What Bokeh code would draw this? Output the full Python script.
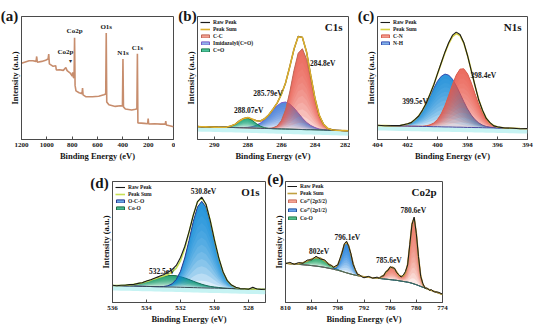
from bokeh.plotting import figure
from bokeh.models import Range1d, FixedTicker, Label, Legend, LegendItem, Spacer
from bokeh.layouts import row, column
from bokeh.embed import file_html
from bokeh.resources import INLINE

# ---------------- data ----------------
# (a) survey
survey_be = [1200, 1170, 1140, 1110, 1085, 1080, 1075, 1040, 1010, 990, 985, 980, 950, 930, 925,
             900, 870, 850, 840, 815, 800, 796, 790, 785, 781, 777, 770, 745, 722, 718, 714, 690,
             640, 590, 550, 535, 531, 527, 510, 460, 420, 403, 399, 395, 380, 330, 300, 289, 285,
             281, 230, 204, 200, 196, 150, 100, 65, 61, 57, 30, 0]
survey_int = [62.0, 63.0, 64.0, 64.0, 63.5, 67.5, 62.8, 63.5, 64.5, 65.5, 69.5, 61.5, 59.5, 60.0, 56.5,
              56.7, 56.2, 58.5, 56.0, 54.0, 51.5, 54.5, 50.5, 50.0, 82.8, 44.0, 39.5, 38.0, 37.3, 41.8,
              36.3, 34.7, 34.7, 35.2, 36.3, 37.0, 86.5, 30.5, 28.2, 26.9, 27.4, 27.2, 65.5, 26.5, 24.8,
              24.0, 24.6, 25.0, 69.8, 13.5, 13.1, 12.8, 17.0, 12.6, 12.8, 12.5, 12.5, 15.0, 11.8, 11.2, 10.4]
survey_ticks = [1200, 1000, 800, 600, 400, 200, 0]

# (b) C1s
c1s_be = [291.0, 290.75, 290.5, 290.25, 290.0, 289.75, 289.5, 289.25, 289.0, 288.75, 288.5, 288.25,
          288.0, 287.75, 287.5, 287.25, 287.0, 286.75, 286.5, 286.25, 286.0, 285.75, 285.5, 285.25,
          285.0, 284.75, 284.5, 284.25, 284.0, 283.75, 283.5, 283.25, 283.0, 282.75, 282.5, 282.25, 282.0]
c1s_bg = [10.5, 10.4, 10.3, 10.2, 10.1, 10.0, 9.9, 9.8, 9.8, 9.7, 9.6, 9.5, 9.4, 9.3, 9.2, 9.1, 9.0, 8.9,
          8.8, 8.7, 8.6, 8.5, 8.4, 8.3, 8.2, 8.1, 8.0, 8.0, 7.9, 7.8, 7.7, 7.6, 7.5, 7.4, 7.3, 7.2, 7.1]
c1s_cc = [10.5, 10.4, 10.3, 10.2, 10.1, 10.0, 9.9, 9.8, 9.8, 9.7, 9.6, 9.5, 9.4, 9.3, 9.2, 9.1, 9.0, 9.0,
          9.5, 11.0, 15.3, 24.1, 38.6, 56.1, 70.1, 73.8, 65.2, 48.7, 31.7, 19.2, 12.2, 9.1, 7.9, 7.5, 7.3, 7.2, 7.1]
c1s_im = [10.5, 10.4, 10.3, 10.2, 10.1, 10.0, 9.9, 9.8, 9.8, 9.7, 9.7, 9.7, 9.9, 10.4, 11.5, 13.4, 16.2,
          19.8, 23.8, 27.5, 29.9, 30.5, 28.9, 25.7, 21.6, 17.4, 13.9, 11.4, 9.7, 8.6, 8.1, 7.7, 7.5, 7.4, 7.3, 7.2, 7.1]
c1s_co = [10.5, 10.4, 10.3, 10.2, 10.1, 10.0, 10.0, 10.1, 10.9, 12.5, 14.9, 16.9, 17.3, 15.6, 13.0, 10.8,
          9.6, 9.1, 8.8, 8.7, 8.6, 8.5, 8.4, 8.3, 8.2, 8.1, 8.0, 8.0, 7.9, 7.8, 7.7, 7.6, 7.5, 7.4, 7.3, 7.2, 7.1]
c1s_sum = [10.5, 10.4, 10.3, 10.2, 10.1, 10.0, 10.0, 10.1, 10.9, 12.5, 15.0, 17.1, 17.8, 16.7, 15.3, 15.1,
           16.8, 20.1, 24.5, 29.8, 36.6, 46.1, 59.1, 73.5, 83.5, 83.1, 71.1, 52.1, 33.5, 20.0, 12.6, 9.2,
           7.9, 7.5, 7.3, 7.2, 7.1]
c1s_raw = [10.6, 10.3, 10.4, 10.1, 10.2, 9.9, 10.1, 10.0, 11.0, 12.4, 15.2, 17.0, 17.9, 16.5, 15.4, 15.0,
           16.9, 20.0, 24.7, 29.6, 36.8, 46.0, 59.3, 73.3, 83.8, 83.0, 71.3, 51.9, 33.7, 19.8, 12.7, 9.1,
           8.0, 7.4, 7.4, 7.1, 7.2]
c1s_ticks = [290, 288, 286, 284, 282]

# (c) N1s
n1s_be = [404.0, 403.5, 403.0, 402.5, 402.0, 401.75, 401.5, 401.25, 401.0, 400.75, 400.5, 400.25, 400.0,
          399.75, 399.5, 399.25, 399.0, 398.75, 398.5, 398.25, 398.0, 397.75, 397.5, 397.25, 397.0,
          396.75, 396.5, 396.25, 396.0, 395.5, 395.0, 394.5, 394.0]
n1s_bg = [11.4, 11.3, 11.1, 11.0, 10.9, 10.8, 10.8, 10.7, 10.6, 10.6, 10.5, 10.4, 10.4, 10.3, 10.2, 10.2,
          10.1, 10.0, 10.0, 9.9, 9.8, 9.8, 9.7, 9.7, 9.6, 9.5, 9.5, 9.4, 9.3, 9.2, 9.1, 8.9, 8.8]
n1s_nh = [11.4, 11.3, 11.2, 11.4, 12.6, 13.9, 16.1, 19.2, 23.5, 29.1, 35.3, 41.6, 47.4, 51.4, 53.2, 52.3,
          49.0, 43.7, 37.4, 30.8, 24.8, 19.9, 16.1, 13.5, 11.7, 10.6, 10.1, 9.7, 9.4, 9.2, 9.1, 8.9, 8.8]
n1s_cn = [11.4, 11.3, 11.1, 11.0, 10.9, 10.8, 10.8, 10.8, 10.8, 11.2, 11.9, 13.4, 16.3, 20.9, 27.6, 35.9,
          44.8, 52.4, 57.2, 57.5, 53.5, 46.2, 37.2, 28.6, 21.4, 16.2, 12.9, 11.0, 10.0, 9.3, 9.1, 8.9, 8.8]
n1s_sum = [11.4, 11.3, 11.2, 11.4, 12.6, 13.9, 16.1, 19.3, 23.7, 29.7, 36.7, 44.6, 53.3, 62.0, 70.6, 78.0,
           83.7, 86.1, 84.6, 78.4, 68.5, 56.3, 43.6, 32.4, 23.5, 17.3, 13.5, 11.3, 10.1, 9.3, 9.1, 8.9, 8.8]
n1s_raw = [11.6, 11.2, 11.4, 11.3, 12.8, 13.7, 16.3, 19.1, 23.9, 29.5, 36.9, 44.4, 53.6, 62.4, 71.2, 78.8,
           84.8, 87.3, 85.4, 78.9, 68.3, 56.0, 43.9, 32.1, 23.8, 17.1, 13.7, 11.1, 10.3, 9.4, 9.2, 8.8, 8.9]
n1s_ticks = [404, 402, 400, 398, 396, 394]

# (d) O1s
o1s_be = [536.0, 535.75, 535.5, 535.25, 535.0, 534.75, 534.5, 534.25, 534.0, 533.75, 533.5, 533.25,
          533.0, 532.75, 532.5, 532.25, 532.0, 531.75, 531.5, 531.25, 531.0, 530.75, 530.5, 530.25,
          530.0, 529.75, 529.5, 529.25, 529.0, 528.75, 528.5, 528.25, 528.0, 527.75, 527.5, 527.25, 527.0]
o1s_bg = [14.0, 13.9, 13.8, 13.7, 13.7, 13.6, 13.5, 13.4, 13.3, 13.2, 13.1, 13.0, 12.9, 12.8, 12.8, 12.7,
          12.6, 12.5, 12.4, 12.3, 12.2, 12.1, 12.0, 11.9, 11.9, 11.8, 11.7, 11.6, 11.5, 11.4, 11.3, 11.2,
          11.1, 11.1, 11.0, 10.9, 10.8]
o1s_coo = [14.1, 14.1, 14.1, 14.3, 14.6, 15.0, 15.6, 16.4, 17.4, 18.5, 19.7, 20.8, 21.6, 22.2, 22.4, 22.1,
           21.3, 20.3, 19.0, 17.6, 16.3, 15.1, 14.1, 13.3, 12.8, 12.4, 12.0, 11.8, 11.6, 11.4, 11.3, 11.2,
           11.1, 11.1, 11.0, 10.9, 10.8]
o1s_oco = [14.0, 13.9, 13.8, 13.7, 13.7, 13.6, 13.5, 13.4, 13.3, 13.2, 13.1, 13.1, 13.2, 13.8, 15.4, 19.0,
           25.8, 36.8, 51.3, 66.9, 79.0, 83.6, 78.8, 66.5, 50.8, 36.1, 24.9, 17.9, 14.1, 12.4, 11.6, 11.3,
           11.1, 11.1, 11.0, 10.9, 10.8]
o1s_sum = [14.1, 14.1, 14.1, 14.3, 14.6, 15.0, 15.6, 16.4, 17.4, 18.5, 19.7, 20.9, 21.9, 23.2, 25.0, 28.4,
           34.5, 44.6, 57.9, 72.2, 83.1, 86.6, 80.9, 67.9, 51.7, 36.7, 25.2, 18.1, 14.2, 12.4, 11.6, 11.3,
           11.1, 11.1, 11.0, 10.9, 10.8]
o1s_raw = [14.2, 13.9, 14.3, 14.2, 14.8, 14.9, 15.8, 16.3, 17.7, 18.8, 20.3, 21.6, 23.0, 24.8, 27.1, 30.6,
           37.2, 46.3, 58.4, 72.0, 83.4, 87.0, 81.2, 67.6, 51.4, 36.9, 25.4, 18.0, 14.4, 12.6, 11.5, 11.4,
           11.0, 12.6, 11.1, 10.8, 10.9]
o1s_ticks = [536, 534, 532, 530, 528]

# (e) Co2p
co_be = [810, 809, 808, 807, 806, 805, 804, 803, 802, 801, 800, 799.5, 799, 798.5, 798, 797.5, 797, 796.5,
         796, 795.5, 795, 794.5, 794, 793.5, 793, 792.5, 792, 791, 790, 789, 788.5, 788, 787.5, 787, 786.5,
         786, 785.5, 785, 784.5, 784, 783.5, 783, 782.5, 782, 781.5, 781, 780.5, 780, 779.5, 779, 778.5,
         778, 777.5, 777, 776.5, 776, 775, 774]
co_bg = [32.4, 32.1, 31.8, 31.5, 31.2, 30.9, 30.5, 30.1, 29.6, 29.0, 28.3, 27.9, 27.5, 27.0, 26.6, 26.1,
         25.6, 25.0, 24.5, 24.0, 23.5, 23.0, 22.6, 22.2, 21.9, 21.6, 21.3, 20.9, 20.5, 20.1, 19.9, 19.7,
         19.5, 19.3, 19.1, 18.9, 18.7, 18.5, 18.3, 18.0, 17.7, 17.4, 17.1, 16.8, 16.4, 15.9, 15.3, 14.7,
         14.0, 13.3, 12.6, 11.9, 11.2, 10.5, 9.9, 9.3, 8.0, 6.7]
co_coo = [32.4, 32.1, 32.0, 32.1, 32.8, 34.2, 35.9, 37.1, 36.6, 34.4, 31.6, 30.2, 29.1, 28.0, 27.2, 26.4,
          25.8, 25.1, 24.5, 24.0, 23.5, 23.0, 22.6, 22.2, 21.9, 21.6, 21.3, 20.9, 20.5, 20.1, 19.9, 19.7,
          19.5, 19.3, 19.1, 18.9, 18.7, 18.5, 18.3, 18.0, 17.7, 17.4, 17.1, 16.8, 16.4, 15.9, 15.3, 14.7,
          14.0, 13.3, 12.6, 11.9, 11.2, 10.5, 9.9, 9.3, 8.0, 6.7]
co_p12 = [32.4, 32.1, 31.8, 31.5, 31.2, 30.9, 30.5, 30.1, 29.6, 29.0, 28.3, 28.0, 27.9, 28.5, 30.7, 35.3,
          41.8, 47.8, 50.0, 46.8, 39.7, 32.2, 26.7, 23.7, 22.3, 21.7, 21.3, 20.9, 20.5, 20.1, 19.9, 19.7,
          19.5, 19.3, 19.1, 18.9, 18.7, 18.5, 18.3, 18.0, 17.7, 17.4, 17.1, 16.8, 16.4, 15.9, 15.3, 14.7,
          14.0, 13.3, 12.6, 11.9, 11.2, 10.5, 9.9, 9.3, 8.0, 6.7]
co_p32 = [32.4, 32.1, 31.8, 31.5, 31.2, 30.9, 30.5, 30.1, 29.6, 29.0, 28.3, 27.9, 27.5, 27.0, 26.6, 26.1,
          25.6, 25.0, 24.5, 24.0, 23.5, 23.0, 22.6, 22.2, 21.9, 21.6, 21.3, 20.9, 20.5, 20.3, 20.5, 21.1,
          22.5, 24.6, 27.0, 28.8, 29.2, 27.8, 25.2, 22.3, 21.6, 21.8, 24.5, 31.5, 47.2, 65.0, 69.9, 57.2,
          37.2, 22.1, 15.0, 12.3, 11.3, 10.5, 9.9, 9.3, 8.0, 6.7]
co_sum = [32.4, 32.1, 32.0, 32.1, 32.8, 34.2, 35.9, 37.1, 36.6, 34.4, 31.6, 30.3, 29.5, 29.5, 31.3, 35.6,
          42.0, 47.9, 50.0, 46.8, 39.7, 32.2, 26.7, 23.7, 22.3, 21.7, 21.3, 20.9, 20.5, 20.3, 20.5, 21.1,
          22.5, 24.6, 27.0, 28.8, 29.2, 27.8, 25.2, 22.3, 21.6, 21.8, 24.5, 31.5, 47.2, 65.0, 69.9, 57.2,
          37.2, 22.1, 15.0, 12.3, 11.3, 10.5, 9.9, 9.3, 8.0, 6.7]
co_raw = [32.0, 33.2, 31.6, 33.0, 32.4, 35.1, 35.3, 38.2, 36.0, 35.2, 31.0, 30.9, 29.0, 30.3, 31.0, 36.4,
          41.5, 48.6, 50.6, 46.2, 40.3, 31.6, 27.3, 23.2, 22.8, 21.2, 20.4, 21.6, 20.1, 21.0, 20.0, 21.8,
          22.0, 25.6, 26.4, 29.6, 28.7, 28.4, 24.6, 23.0, 21.0, 22.6, 25.6, 31.0, 47.9, 64.4, 70.6, 56.8,
          37.9, 21.6, 15.6, 11.8, 12.0, 10.1, 10.6, 8.8, 8.6, 6.9]
co_ticks = [810, 804, 798, 792, 786, 780, 774]

# ---------------- styling helpers ----------------
SERIF = "Liberation Serif"
INK = "#161616"
FRAME = "#4a4a4a"


def base_fig(xs, xe, ticks, fw, fh, bl, br, bt, bb):
    p = figure(x_range=Range1d(xs, xe), y_range=Range1d(0, 100),
               frame_width=fw, frame_height=fh,
               min_border_left=bl, min_border_right=br, min_border_top=bt, min_border_bottom=bb,
               output_backend="svg", toolbar_location=None, tools="")
    p.grid.visible = False
    p.outline_line_color = FRAME
    p.outline_line_width = 1
    p.background_fill_color = "white"
    p.border_fill_color = "white"
    xa = p.xaxis[0]
    xa.ticker = FixedTicker(ticks=ticks)
    xa.axis_line_color = FRAME
    xa.major_tick_line_color = FRAME
    xa.major_tick_in = 3
    xa.major_tick_out = 0
    xa.minor_tick_line_color = None
    xa.major_label_standoff = 3
    xa.major_label_text_font = SERIF
    xa.major_label_text_font_style = "bold"
    xa.major_label_text_font_size = "7px"
    xa.major_label_text_color = INK
    xa.axis_label = "Binding Energy (eV)"
    xa.axis_label_text_font = SERIF
    xa.axis_label_text_font_style = "bold"
    xa.axis_label_text_font_size = "8.5px"
    xa.axis_label_text_color = INK
    xa.axis_label_standoff = 1
    ya = p.yaxis[0]
    ya.ticker = FixedTicker(ticks=[])
    ya.axis_line_color = FRAME
    ya.major_tick_line_color = None
    ya.minor_tick_line_color = None
    ya.major_tick_in = 0
    ya.major_tick_out = 0
    ya.major_label_standoff = 0
    ya.axis_label = "Intensity (a.u.)"
    ya.axis_label_text_font = SERIF
    ya.axis_label_text_font_style = "bold"
    ya.axis_label_text_font_size = "8.5px"
    ya.axis_label_text_color = INK
    ya.axis_label_standoff = 2
    return p


def tag(p, text, dx, dy):
    # placed in the (zero-size) top side panel so it is not clipped to the frame
    p.add_layout(Label(x=dx, y=dy, x_units="screen", y_units="screen", text=text,
                       text_font=SERIF, text_font_style="bold", text_font_size="15px",
                       text_align="center", text_baseline="middle", text_color=INK), "above")


def corner(p, text, fw, fh):
    p.add_layout(Label(x=fw - 6, y=fh - 4, x_units="screen", y_units="screen", text=text,
                       text_font=SERIF, text_font_style="bold", text_font_size="11px",
                       text_align="right", text_baseline="top", text_color=INK))


def note(p, text, x, y, align="center", size="7.5px"):
    p.add_layout(Label(x=x, y=y, text=text, text_font=SERIF, text_font_style="bold",
                       text_font_size=size, text_align=align, text_baseline="middle", text_color=INK))


def component(p, be, bg, comp, color, outline, legend_fill, n=12, a=0.15):
    for k in range(n):
        lo = [b + (c - b) * k / n for b, c in zip(bg, comp)]
        p.varea(x=be, y1=lo, y2=comp, fill_color=color, fill_alpha=a)
    p.line(be, comp, line_color=outline, line_width=1.0)
    # zero-area patch used only as the legend swatch
    return p.patch(x=[be[0], be[0]], y=[bg[0], bg[0]], fill_color=legend_fill,
                   line_color=outline, line_width=1)


def band(p, be, bg):
    p.varea(x=be, y1=[b - 4 for b in bg], y2=bg, fill_color="#c6f3f3", fill_alpha=1)


def add_legend(p, items, margin=3):
    leg = Legend(items=[LegendItem(label=l, renderers=[r]) for l, r in items], location="top_left",
                 label_text_font=SERIF, label_text_font_style="bold", label_text_font_size="5.5px",
                 label_text_color=INK, glyph_width=10, glyph_height=4, label_height=6,
                 label_standoff=3, spacing=1, padding=2, margin=margin,
                 background_fill_alpha=0, border_line_color=None)
    p.add_layout(leg)


TOP_H = 123
BOT_H = 121

# ---------------- (a) survey ----------------
pa = base_fig(1200, 0, survey_ticks, 152, TOP_H, 21, 2, 8, 26)
pa.line(survey_be, survey_int, line_color="#c78d6d", line_width=1.6)
for txt, x, y in [("Co2p", 781, 88.0), ("Co2p", 853, 71.0), ("O1s", 531, 91.5), ("N1s", 399, 70.5),
                  ("C1s", 285, 74.5)]:
    note(pa, txt, x, y, size="7px")
pa.add_layout(Label(x=812, y=63.5, text="\u25be", text_font_size="6px", text_align="center",
                    text_baseline="middle", text_color="#333333"))
tag(pa, "(a)", -12, 1)

# ---------------- (b) C1s ----------------
pb = base_fig(291, 282, c1s_ticks, 151, TOP_H, 22, 2, 8, 26)
band(pb, c1s_be, c1s_bg)
r_im = component(pb, c1s_be, c1s_bg, c1s_im, "#3a78d8", "#7a5cc8", "#8fb4ec")
r_co = component(pb, c1s_be, c1s_bg, c1s_co, "#0fa070", "#1e7a50", "#4cc49c")
r_cc = component(pb, c1s_be, c1s_bg, c1s_cc, "#e85a48", "#c06858", "#f2a090")
pb.line(c1s_be, c1s_bg, line_color="#3e5566", line_width=1.0)
r_raw_b = pb.line(c1s_be, c1s_raw, line_color="#1a1a1a", line_width=1.2)
r_sum_b = pb.line(c1s_be, c1s_sum, line_color="#dcae2c", line_width=1.6)
add_legend(pb, [("Raw Peak", r_raw_b), ("Peak Sum", r_sum_b), ("C-C", r_cc),
                ("Imidazolyl(C=O)", r_im), ("C=O", r_co)])
note(pb, "284.8eV", 284.3, 62, "left")
note(pb, "285.79eV", 286.8, 37.5)
note(pb, "288.07eV", 287.95, 23.4)
corner(pb, "C1s", 151, TOP_H)
tag(pb, "(b)", -10, 1)

# ---------------- (c) N1s ----------------
pc = base_fig(404, 394, n1s_ticks, 150, TOP_H, 27, 7, 8, 26)
band(pc, n1s_be, n1s_bg)
r_nh = component(pc, n1s_be, n1s_bg, n1s_nh, "#1088d8", "#3a50b0", "#7fb0ea")
r_cn = component(pc, n1s_be, n1s_bg, n1s_cn, "#ec5a48", "#d86050", "#f29a8c")
pc.line(n1s_be, n1s_bg, line_color="#4a4aa0", line_width=1.0)
r_sum_c = pc.line(n1s_be, n1s_sum, line_color="#d6d040", line_width=1.6)
r_raw_c = pc.line(n1s_be, n1s_raw, line_color="#1a1a1a", line_width=1.1)
add_legend(pc, [("Raw Peak", r_raw_c), ("Peak Sum", r_sum_c), ("C-N", r_cn), ("N-H", r_nh)])
note(pc, "398.4eV", 397.8, 52.4, "left")
note(pc, "399.5eV", 401.5, 31)
corner(pc, "N1s", 150, TOP_H)
tag(pc, "(c)", -11.5, 1)

# ---------------- (d) O1s ----------------
pd_ = base_fig(536, 527, o1s_ticks, 153, BOT_H, 23, 1, 10, 25)
band(pd_, o1s_be, o1s_bg)
r_coo_d = component(pd_, o1s_be, o1s_bg, o1s_coo, "#0f9868", "#1f6b48", "#48b890")
r_oco = component(pd_, o1s_be, o1s_bg, o1s_oco, "#0a88d8", "#2a3a90", "#6aaae8")
pd_.line(o1s_be, o1s_bg, line_color="#3a4a55", line_width=1.0)
r_sum_d = pd_.line(o1s_be, o1s_sum, line_color="#c8e055", line_width=1.6)
r_raw_d = pd_.line(o1s_be, o1s_raw, line_color="#1a1a1a", line_width=1.1)
add_legend(pd_, [("Raw Peak", r_raw_d), ("Peak Sum", r_sum_d), ("O-C-O", r_oco), ("Co-O", r_coo_d)])
note(pd_, "530.8eV", 530.65, 91.5)
note(pd_, "532.5eV", 533.1, 25.8)
corner(pd_, "O1s", 153, BOT_H)
tag(pd_, "(d)", -13, -1.5)

# ---------------- (e) Co2p ----------------
pe = base_fig(810, 774, co_ticks, 157, BOT_H, 19, 8, 10, 25)
r_coo_e = component(pe, co_be, co_bg, co_coo, "#12a060", "#2a7a50", "#50c08a")
r_p12 = component(pe, co_be, co_bg, co_p12, "#1078e0", "#2050a0", "#6aa8ec")
r_p32 = component(pe, co_be, co_bg, co_p32, "#ee6a58", "#c87060", "#f4a494")
pe.line(co_be, co_bg, line_color="#3d6b55", line_width=1.0)
r_sum_e = pe.line(co_be, co_sum, line_color="#c0a040", line_width=1.6)
r_raw_e = pe.line(co_be, co_raw, line_color="#1a1a1a", line_width=1.0)
add_legend(pe, [("Raw Peak", r_raw_e), ("Peak Sum", r_sum_e), ("Co\u00b2\u207a(2p3/2)", r_p32),
                ("Co\u00b2\u207a(2p1/2)", r_p12), ("Co-O", r_coo_e)], margin=2)
note(pe, "780.6eV", 780.7, 76.2)
note(pe, "796.1eV", 795.8, 53.4)
note(pe, "802eV", 802.3, 42.2)
note(pe, "785.6eV", 786.3, 34.8)
corner(pe, "Co2p", 157, BOT_H)
tag(pe, "(e)", -10, 2.5)

layout = column(row(pa, pb, pc), row(Spacer(width=89, height=156), pd_, pe))
open("out.html", "w").write(file_html(layout, INLINE))
